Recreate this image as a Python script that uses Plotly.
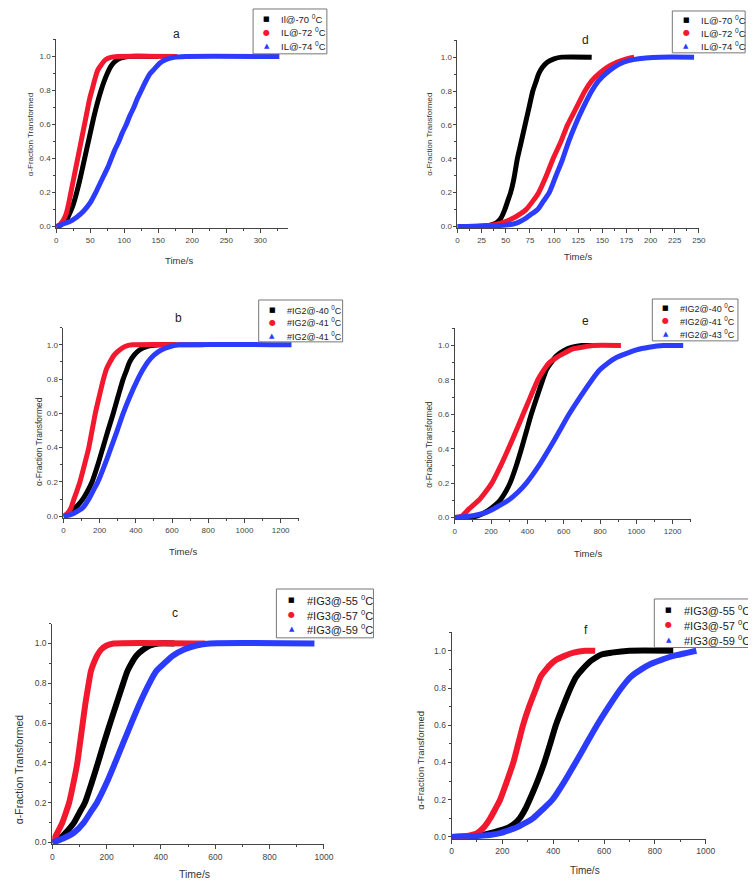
import plotly.graph_objects as go

W, H = 756, 880

# ---------------- data ----------------
# panel a
a_t_black = [0, 5, 10, 15, 20, 25, 30, 35, 40, 45, 50, 55, 60, 65, 70, 75, 80, 86, 94, 105, 150]
a_y_black = [0, 0.005, 0.02, 0.04, 0.08, 0.13, 0.2, 0.28, 0.37, 0.46, 0.55, 0.64, 0.72, 0.79, 0.85, 0.9, 0.94, 0.97, 0.99, 1.0, 1.0]
a_t_red = [0, 5, 10, 15, 18, 21, 25, 29, 33, 37, 41, 45, 49, 53, 57, 61, 66, 72, 80, 90, 178]
a_y_red = [0, 0.01, 0.035, 0.08, 0.13, 0.19, 0.27, 0.35, 0.43, 0.51, 0.59, 0.67, 0.75, 0.81, 0.87, 0.92, 0.95, 0.98, 0.995, 1.0, 1.0]
a_t_blue = [0, 10, 20, 30, 40, 50, 58, 64, 70, 76, 81, 86, 92, 97, 103, 108, 114, 119, 125, 131, 138, 145, 152, 160, 173, 190, 328]
a_y_blue = [0, 0.015, 0.03, 0.055, 0.09, 0.14, 0.2, 0.25, 0.3, 0.35, 0.4, 0.45, 0.5, 0.55, 0.6, 0.65, 0.7, 0.75, 0.8, 0.85, 0.9, 0.93, 0.96, 0.98, 0.995, 1.0, 1.0]

# panel d
d_t_black = [0, 20, 30, 35, 40, 45, 49, 52, 55, 58, 62, 64, 66, 68, 70, 74, 78, 81, 84, 88, 93, 100, 108, 139]
d_y_black = [0, 0, 0.005, 0.01, 0.02, 0.05, 0.1, 0.15, 0.2, 0.27, 0.4, 0.45, 0.5, 0.55, 0.6, 0.7, 0.8, 0.85, 0.9, 0.94, 0.97, 0.99, 1.0, 1.0]
d_t_red = [0, 30, 45, 58, 65, 71, 78, 84, 92, 99, 107, 114, 123, 132, 139, 146, 155, 165, 175, 183]
d_y_red = [0, 0.005, 0.02, 0.05, 0.075, 0.1, 0.15, 0.2, 0.3, 0.4, 0.5, 0.6, 0.7, 0.8, 0.86, 0.9, 0.94, 0.97, 0.99, 1.0]
d_t_blue = [0, 40, 52, 61, 71, 77, 83, 89, 95, 102, 109, 115, 122, 130, 139, 146, 153, 162, 172, 182, 195, 210, 245]
d_y_blue = [0, 0.005, 0.01, 0.02, 0.05, 0.075, 0.1, 0.15, 0.2, 0.3, 0.4, 0.5, 0.6, 0.7, 0.8, 0.86, 0.9, 0.94, 0.97, 0.985, 0.995, 1.0, 1.0]

# panel b
b_t_black = [0, 25, 50, 80, 107, 130, 158, 190, 218, 246, 275, 302, 330, 348, 366, 390, 420, 460, 500, 540, 620]
b_y_black = [0, 0.01, 0.035, 0.065, 0.1, 0.14, 0.2, 0.3, 0.4, 0.5, 0.6, 0.7, 0.8, 0.85, 0.9, 0.94, 0.97, 0.99, 0.997, 1.0, 1.0]
b_t_red = [0, 20, 40, 58, 75, 91, 116, 140, 158, 176, 198, 221, 238, 257, 280, 310, 340, 380, 774]
b_y_red = [0, 0.015, 0.045, 0.1, 0.15, 0.2, 0.3, 0.4, 0.5, 0.6, 0.7, 0.8, 0.86, 0.9, 0.94, 0.97, 0.99, 1.0, 1.0]
b_t_blue = [0, 40, 70, 107, 140, 165, 190, 228, 263, 297, 330, 368, 411, 436, 466, 500, 540, 590, 640, 1260]
b_y_blue = [0, 0.01, 0.025, 0.05, 0.1, 0.15, 0.2, 0.3, 0.4, 0.5, 0.6, 0.7, 0.8, 0.85, 0.9, 0.94, 0.97, 0.99, 1.0, 1.0]

# panel e
e_t_black = [0, 100, 150, 195, 225, 249, 280, 304, 338, 367, 394, 421, 452, 484, 505, 530, 560, 600, 647, 700, 773]
e_y_black = [0, 0.003, 0.02, 0.05, 0.075, 0.1, 0.15, 0.2, 0.3, 0.4, 0.5, 0.6, 0.7, 0.8, 0.86, 0.9, 0.94, 0.97, 0.99, 1.0, 1.0]
e_t_red = [0, 40, 78, 105, 132, 170, 204, 252, 295, 336, 376, 416, 457, 485, 520, 560, 593, 650, 700, 760, 915]
e_y_red = [0, 0.01, 0.05, 0.075, 0.1, 0.15, 0.2, 0.3, 0.4, 0.5, 0.6, 0.7, 0.8, 0.85, 0.9, 0.93, 0.95, 0.98, 0.99, 1.0, 1.0]
e_t_blue = [0, 100, 160, 213, 255, 295, 350, 394, 462, 520, 575, 629, 690, 755, 800, 846, 890, 936, 1000, 1070, 1150, 1258]
e_y_blue = [0, 0.01, 0.025, 0.05, 0.075, 0.1, 0.15, 0.2, 0.3, 0.4, 0.5, 0.6, 0.7, 0.8, 0.86, 0.9, 0.93, 0.95, 0.975, 0.99, 1.0, 1.0]

# panel c
c_t_black = [0, 25, 50, 80, 100, 120, 145, 168, 190, 213, 237, 261, 276, 291, 310, 335, 360, 390, 450]
c_y_black = [0, 0.015, 0.05, 0.1, 0.15, 0.2, 0.3, 0.4, 0.5, 0.6, 0.7, 0.8, 0.86, 0.9, 0.94, 0.97, 0.99, 1.0, 1.0]
c_t_red = [0, 19, 37, 50, 62, 78, 92, 102, 112, 122, 134, 142, 152, 165, 180, 200, 225, 563]
c_y_red = [0, 0.05, 0.1, 0.15, 0.2, 0.3, 0.4, 0.5, 0.6, 0.7, 0.8, 0.86, 0.9, 0.94, 0.97, 0.99, 1.0, 1.0]
c_t_blue = [0, 40, 80, 116, 140, 164, 200, 231, 261, 291, 322, 357, 382, 412, 445, 485, 530, 580, 965]
c_y_blue = [0, 0.02, 0.05, 0.1, 0.15, 0.2, 0.3, 0.4, 0.5, 0.6, 0.7, 0.8, 0.86, 0.9, 0.94, 0.97, 0.99, 1.0, 1.0]

# panel f
f_t_black = [0, 100, 152, 190, 223, 250, 268, 290, 307, 338, 365, 388, 410, 438, 468, 490, 514, 535, 552, 590, 630, 700, 872]
f_y_black = [0, 0.005, 0.02, 0.035, 0.05, 0.075, 0.1, 0.15, 0.2, 0.3, 0.4, 0.5, 0.6, 0.7, 0.8, 0.86, 0.9, 0.93, 0.95, 0.98, 0.99, 1.0, 1.0]
f_t_red = [0, 60, 100, 126, 140, 152, 172, 191, 218, 243, 262, 281, 305, 333, 350, 372, 392, 410, 440, 480, 526, 565]
f_y_red = [0, 0.005, 0.02, 0.05, 0.075, 0.1, 0.15, 0.2, 0.3, 0.4, 0.5, 0.6, 0.7, 0.8, 0.86, 0.9, 0.93, 0.95, 0.97, 0.99, 1.0, 1.0]
f_t_blue = [0, 100, 150, 191, 225, 255, 290, 320, 360, 397, 445, 488, 530, 572, 618, 668, 705, 746, 785, 823, 880, 930, 963]
f_y_blue = [0, 0.005, 0.01, 0.02, 0.035, 0.05, 0.075, 0.1, 0.15, 0.2, 0.3, 0.4, 0.5, 0.6, 0.7, 0.8, 0.86, 0.9, 0.93, 0.95, 0.975, 0.99, 1.0]

labels_a = ["Il@-70 <sup>0</sup>C", "IL@-72 <sup>0</sup>C", "IL@-74 <sup>0</sup>C"]
labels_d = ["IL@-70 <sup>0</sup>C", "IL@-72 <sup>0</sup>C", "IL@-74 <sup>0</sup>C"]
labels_b = ["#IG2@-40 <sup>0</sup>C", "#IG2@-41 <sup>0</sup>C", "#IG2@-41 <sup>0</sup>C"]
labels_e = ["#IG2@-40 <sup>0</sup>C", "#IG2@-41 <sup>0</sup>C", "#IG2@-43 <sup>0</sup>C"]
labels_c = ["#IG3@-55 <sup>0</sup>C", "#IG3@-57 <sup>0</sup>C", "#IG3@-59 <sup>0</sup>C"]
labels_f = ["#IG3@-55 <sup>0</sup>C", "#IG3@-57 <sup>0</sup>C", "#IG3@-59 <sup>0</sup>C"]

COLORS = ["#000000", "#f2182e", "#2b3cff"]
SYMS = ["■", "●", "▲"]
FONT = "Liberation Sans, Arial, sans-serif"
AXC = "#444444"


def px(x):
    return x / W


def py(y):
    return 1 - y / H


panels = [
    dict(letter="a", data=[(a_t_black, a_y_black), (a_t_red, a_y_red), (a_t_blue, a_y_blue)], labels=labels_a,
         xr=[0, 340], dt=50, mdt=25, xd=(47, 282), yd=(31.6, 221), lw=5, tf=8,
         lp=(169, 26, 12), xt=(172, 253, 9.5), yt=(21, 127, 8),
         box=(247, 1, 322, 46), sx=261, tx=273, rows=(11.5, 24.5, 38.5), lf=9.5),
    dict(letter="d", data=[(d_t_black, d_y_black), (d_t_red, d_y_red), (d_t_blue, d_y_blue)], labels=labels_d,
         xr=[0, 250], dt=25, mdt=12.5, xd=(454.7, 700), yd=(32.3, 221), lw=5, tf=8,
         lp=(585, 32, 12), xt=(577, 249, 9.5), yt=(426, 127, 8),
         box=(673, 3, 747, 45), sx=687, tx=700, rows=(12, 25, 38), lf=9.5),
    dict(letter="b", data=[(b_t_black, b_y_black), (b_t_red, b_y_red), (b_t_blue, b_y_blue)], labels=labels_b,
         xr=[0, 1300], dt=200, mdt=100, xd=(54.3, 293.4), yd=(320.8, 511.7), lw=5, tf=8,
         lp=(171, 311, 12), xt=(176, 545, 9.5), yt=(29, 435, 8.5),
         box=(252.7, 293, 338, 335), sx=266.5, tx=279, rows=(303.3, 315.5, 329), lf=9),
    dict(letter="e", data=[(e_t_black, e_y_black), (e_t_red, e_y_red), (e_t_blue, e_y_blue)], labels=labels_e,
         xr=[0, 1300], dt=200, mdt=100, xd=(452, 691.8), yd=(321.4, 513), lw=5, tf=8,
         lp=(585, 314, 12), xt=(587, 547, 9.5), yt=(425, 438, 8.3),
         box=(652.7, 292, 739.7, 334), sx=666.5, tx=679, rows=(301, 314, 327.3), lf=9),
    dict(letter="c", data=[(c_t_black, c_y_black), (c_t_red, c_y_red), (c_t_blue, c_y_blue)], labels=labels_c,
         xr=[0, 1000], dt=200, mdt=100, xd=(43, 319), yd=(617.7, 839.3), lw=6, tf=8.5,
         lp=(168, 607, 12), xt=(187, 869, 10.5), yt=(10, 764, 10.5),
         box=(270.7, 583, 369.3, 632), sx=286.5, tx=300, rows=(594.5, 609, 623.5), lf=11),
    dict(letter="f", data=[(f_t_black, f_y_black), (f_t_red, f_y_red), (f_t_blue, f_y_blue)], labels=labels_f,
         xr=[0, 1000], dt=200, mdt=100, xd=(448.7, 707), yd=(626.3, 833.6), lw=6, tf=8.5,
         lp=(585, 624, 12), xt=(584, 865, 10), yt=(417, 755, 9.5),
         box=(654.7, 593, 756, 641.7), sx=669.5, tx=683, rows=(604, 619, 634), lf=11),
]

fig = go.Figure()
annotations = []
shapes = []

for i, p in enumerate(panels, start=1):
    xa = "x" if i == 1 else f"x{i}"
    ya = "y" if i == 1 else f"y{i}"
    for (t, y), col in zip(p["data"], COLORS):
        fig.add_trace(go.Scatter(x=t, y=y, mode="lines", xaxis=xa, yaxis=ya,
                                 line=dict(color=col, width=p["lw"], shape="spline", smoothing=0.6),
                                 showlegend=False, hoverinfo="skip"))
    xkey = "xaxis" if i == 1 else f"xaxis{i}"
    ykey = "yaxis" if i == 1 else f"yaxis{i}"
    fig.update_layout(**{
        xkey: dict(domain=[px(p["xd"][0]), px(p["xd"][1])], range=p["xr"], anchor=ya,
                   showline=True, linecolor=AXC, linewidth=1, ticks="outside", ticklen=4,
                   tickcolor=AXC, tickwidth=1, dtick=p["dt"], tick0=0,
                   minor=dict(dtick=p["mdt"], ticks="outside", ticklen=2, tickcolor=AXC),
                   tickfont=dict(size=p["tf"], color=AXC, family=FONT),
                   showgrid=False, zeroline=False),
        ykey: dict(domain=[py(p["yd"][1]), py(p["yd"][0])], range=[-0.01, 1.1], anchor=xa,
                   showline=True, linecolor=AXC, linewidth=1, ticks="outside", ticklen=3,
                   tickcolor=AXC, tickwidth=1, dtick=0.2, tick0=0, tickformat=".1f",
                   minor=dict(dtick=0.1, ticks="outside", ticklen=2, tickcolor=AXC),
                   tickfont=dict(size=p["tf"], color=AXC, family=FONT),
                   showgrid=False, zeroline=False),
    })
    lx, ly, ls = p["lp"]
    annotations.append(dict(x=px(lx), y=py(ly), xref="paper", yref="paper", text=p["letter"],
                            showarrow=False, font=dict(size=ls, color="#222", family=FONT),
                            xanchor="center", yanchor="middle"))
    tx_, ty_, ts = p["xt"]
    annotations.append(dict(x=px(tx_), y=py(ty_), xref="paper", yref="paper", text="Time/s",
                            showarrow=False, font=dict(size=ts, color="#333", family=FONT),
                            xanchor="center", yanchor="middle"))
    yx, yy, ys = p["yt"]
    annotations.append(dict(x=px(yx), y=py(yy), xref="paper", yref="paper",
                            text="α-Fraction Transformed", textangle=-90,
                            showarrow=False, font=dict(size=ys, color="#333", family=FONT),
                            xanchor="center", yanchor="middle"))
    bx0, by0, bx1, by1 = p["box"]
    shapes.append(dict(type="rect", xref="paper", yref="paper",
                       x0=px(bx0), x1=px(bx1), y0=py(by1), y1=py(by0),
                       line=dict(color="#777", width=1), fillcolor="white", layer="above"))
    for row, lab, col, sym in zip(p["rows"], p["labels"], COLORS, SYMS):
        annotations.append(dict(x=px(p["sx"]), y=py(row), xref="paper", yref="paper", text=sym,
                                showarrow=False, font=dict(size=7 if sym != "●" else 8, color=col,
                                                           family="DejaVu Sans"),
                                xanchor="center", yanchor="middle"))
        annotations.append(dict(x=px(p["tx"]), y=py(row), xref="paper", yref="paper", text=lab,
                                showarrow=False, font=dict(size=p["lf"], color="#222", family=FONT),
                                xanchor="left", yanchor="middle"))

fig.update_layout(width=W, height=H, margin=dict(l=0, r=0, t=0, b=0),
                  paper_bgcolor="white", plot_bgcolor="white",
                  annotations=annotations, shapes=shapes, showlegend=False,
                  font=dict(family=FONT))

fig.write_html("out.html")
